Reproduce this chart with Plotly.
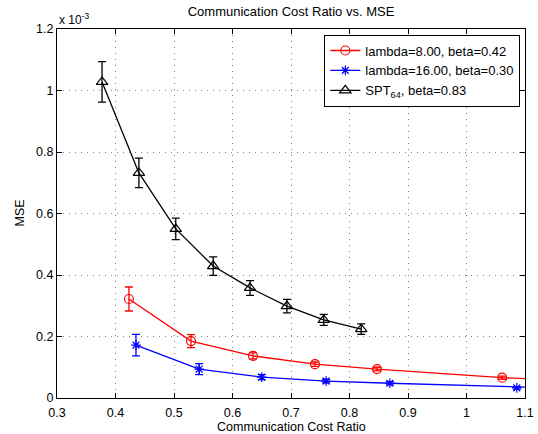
import plotly.graph_objects as go

# Data (MSE in units of 1e-3)
red_x = [0.423, 0.529, 0.635, 0.741, 0.847, 1.061, 1.28]
red_y = [0.322, 0.185, 0.137, 0.110, 0.094, 0.066, 0.050]
red_e = [0.039, 0.021, 0.010, 0.007, 0.006, 0.005, 0.004]

blue_x = [0.435, 0.543, 0.650, 0.760, 0.869, 1.086, 1.30]
blue_y = [0.172, 0.094, 0.068, 0.055, 0.048, 0.033, 0.025]
blue_e = [0.035, 0.018, 0.008, 0.006, 0.005, 0.004, 0.003]

blk_x = [0.377, 0.440, 0.503, 0.567, 0.630, 0.693, 0.756, 0.820]
blk_y = [1.028, 0.732, 0.550, 0.429, 0.358, 0.299, 0.254, 0.224]
blk_e = [0.066, 0.048, 0.035, 0.030, 0.024, 0.022, 0.018, 0.017]

x_ticks = [0.3, 0.4, 0.5, 0.6, 0.7, 0.8, 0.9, 1.0, 1.1]
x_labels = ["0.3", "0.4", "0.5", "0.6", "0.7", "0.8", "0.9", "1", "1.1"]
y_ticks = [0, 0.2, 0.4, 0.6, 0.8, 1.0, 1.2]
y_labels = ["0", "0.2", "0.4", "0.6", "0.8", "1", "1.2"]

FONT = "Liberation Sans, Arial, Helvetica, sans-serif"

fig = go.Figure()

def add(x, y, e, color, symbol, name, size):
    fig.add_trace(go.Scatter(
        x=x, y=y, mode="lines+markers", name=name,
        line=dict(color=color, width=1.3),
        marker=dict(symbol=symbol, size=size, color=color,
                    line=dict(color=color, width=1.2)),
        error_y=dict(type="data", array=e, visible=True, color=color,
                     thickness=1.3, width=4),
        cliponaxis=True,
    ))

add(red_x, red_y, red_e, "#ff0000", "circle-open", "lambda=8.00, beta=0.42", 9)
add(blue_x, blue_y, blue_e, "#0000ff", "asterisk-open", "lambda=16.00, beta=0.30", 8)
add(blk_x, blk_y, blk_e, "#000000", "triangle-up-open", "SPT<sub>64</sub>, beta=0.83", 10)

axis_common = dict(
    showline=True, linecolor="black", linewidth=1, mirror="ticks",
    ticks="inside", ticklen=5, tickcolor="black",
    showgrid=True, gridcolor="#808080", griddash="1px,5px", gridwidth=1,
    zeroline=False, automargin=False,
    tickfont=dict(family=FONT, size=12.5, color="black"),
)

fig.update_xaxes(range=[0.3, 1.1], tickvals=x_ticks, ticktext=x_labels,
                 ticklabelstandoff=3, **axis_common)
fig.update_yaxes(range=[0, 1.2], tickvals=y_ticks, ticktext=y_labels, **axis_common)

fig.add_annotation(text="Communication Cost Ratio", xref="paper", yref="paper",
                   x=0.5, y=0, yshift=-29, xanchor="center", yanchor="middle",
                   showarrow=False, font=dict(family=FONT, size=12.5, color="black"))
fig.add_annotation(text="MSE", xref="paper", yref="paper", textangle=-90,
                   x=0, y=0.5, xshift=-38, xanchor="center", yanchor="middle",
                   showarrow=False, font=dict(family=FONT, size=12.5, color="black"))
fig.add_annotation(text="x 10<sup>-3</sup>", xref="paper", yref="paper",
                   x=0, y=1, xanchor="left", yanchor="bottom", showarrow=False,
                   font=dict(family=FONT, size=12, color="black"), yshift=0)

fig.update_layout(
    width=538, height=434,
    margin=dict(l=57, r=13, t=29, b=36, autoexpand=False),
    paper_bgcolor="white", plot_bgcolor="white",
    title=dict(text="Communication Cost Ratio vs. MSE", x=0.541, xanchor="center",
               y=0.985, yanchor="top", font=dict(family=FONT, size=13, color="black")),
    showlegend=True,
    legend=dict(x=0.99, y=0.985, xanchor="right", yanchor="top",
                bgcolor="white", bordercolor="black", borderwidth=1,
                font=dict(family=FONT, size=13, color="black"),
                tracegroupgap=0, itemsizing="trace"),
)

fig.write_html("out.html")
